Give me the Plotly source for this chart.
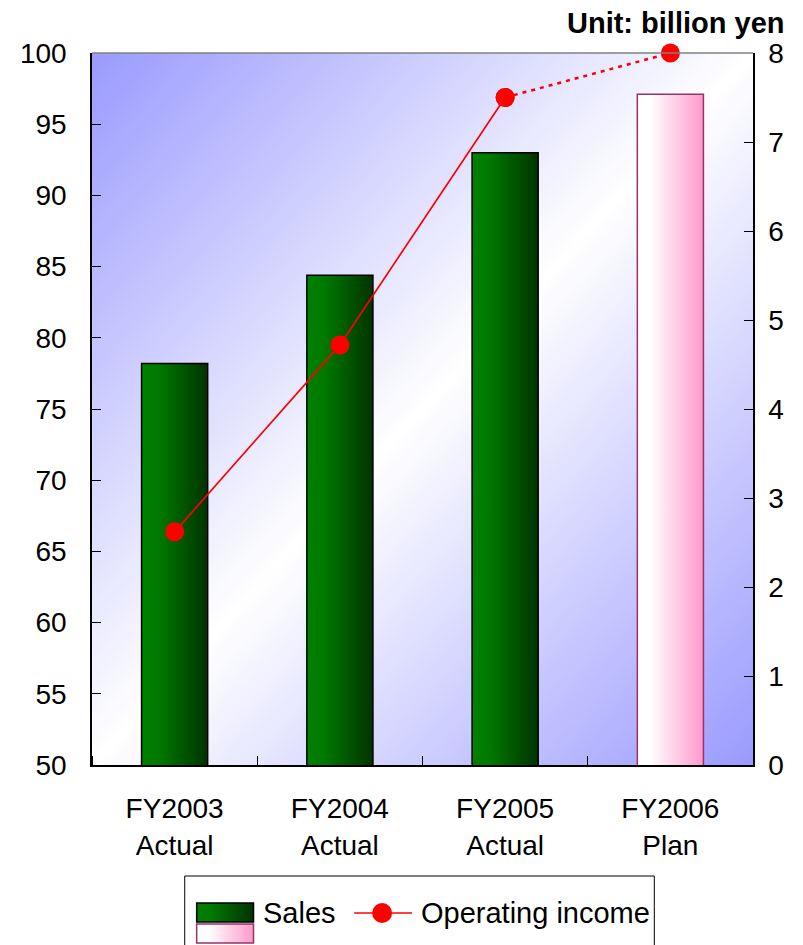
import base64
import plotly.graph_objects as go

# ---- data ----
categories = ["FY2003<br>Actual", "FY2004<br>Actual", "FY2005<br>Actual", "FY2006<br>Plan"]
sales = [78.2, 84.4, 93.0, 97.1]
operating_income = [2.62, 4.72, 7.5, 8.0]
left_ticks = [50, 55, 60, 65, 70, 75, 80, 85, 90, 95, 100]
right_ticks = [0, 1, 2, 3, 4, 5, 6, 7, 8]

FONT = "Liberation Sans, Arial, sans-serif"
OFF = 8  # page body margin
W, H = 803 - OFF, 945 - OFF
PX0, PX1, PY0, PY1 = 90, 753, 53, 765  # plot area in reference pixels


def px(x):
    return (x - PX0) / (PX1 - PX0)


def py(y):
    return (PY1 - y) / (PY1 - PY0)


def grad(stops, x2=1, y2=0):
    st = "".join(f'<stop offset="{o}" stop-color="{c}"/>' for o, c in stops)
    svg = (f'<svg xmlns="http://www.w3.org/2000/svg" width="100" height="100" '
           f'viewBox="0 0 100 100" preserveAspectRatio="none">'
           f'<defs><linearGradient id="g" x1="0" y1="0" x2="{x2}" y2="{y2}">{st}</linearGradient></defs>'
           f'<rect x="0" y="0" width="100" height="100" fill="url(#g)"/></svg>')
    return "data:image/svg+xml;base64," + base64.b64encode(svg.encode()).decode()


bg_src = grad([(0, "#9a9aff"), (0.5, "#ffffff"), (1, "#9a9aff")], x2=1, y2=1)
green_src = grad([(0, "#008000"), (0.25, "#007a00"), (1, "#003300")])
pink_src = grad([(0, "#ffffff"), (0.2, "#ffffff"), (1, "#ff99cc")])

xs = list(range(len(categories)))
bar_w = 0.4
bar_line_colors = ["#000000", "#000000", "#000000", "#993366"]

fig = go.Figure()
fig.add_trace(go.Bar(
    x=xs, y=sales, width=bar_w, name="Sales",
    marker=dict(color="rgba(0,0,0,0)", line=dict(color=bar_line_colors, width=1.5)),
    showlegend=False, hoverinfo="y",
))
fig.add_trace(go.Scatter(
    x=xs[:3], y=operating_income[:3], yaxis="y2", mode="lines+markers",
    line=dict(color="#ff0000", width=1.7), marker=dict(color="#ff0000", size=19),
    cliponaxis=False, showlegend=False,
))
fig.add_trace(go.Scatter(
    x=xs[2:], y=operating_income[2:], yaxis="y2", mode="lines+markers",
    line=dict(color="#ff0000", width=2.5, dash="4px,5px"), marker=dict(color="#ff0000", size=19),
    cliponaxis=False, showlegend=False,
))

images = [dict(source=bg_src, xref="paper", yref="paper", x=0, y=1, sizex=1, sizey=1,
               xanchor="left", yanchor="top", sizing="stretch", layer="below")]
for i, v in enumerate(sales):
    images.append(dict(source=pink_src if i == 3 else green_src, xref="x", yref="y",
                       x=xs[i] - bar_w / 2, y=v, sizex=bar_w, sizey=v - left_ticks[0],
                       xanchor="left", yanchor="top", sizing="stretch", layer="below"))

# legend (manual)
images.append(dict(source=green_src, xref="paper", yref="paper", x=px(195), y=py(903),
                   sizex=px(252) - px(195), sizey=py(903) - py(922),
                   xanchor="left", yanchor="top", sizing="stretch", layer="above"))
images.append(dict(source=pink_src, xref="paper", yref="paper", x=px(195), y=py(924),
                   sizex=px(252) - px(195), sizey=py(924) - py(943),
                   xanchor="left", yanchor="top", sizing="stretch", layer="above"))

shapes = [
    dict(type="line", xref="paper", yref="paper", x0=0, x1=1, y0=1, y1=1,
         line=dict(color="#808080", width=1.5)),
    dict(type="rect", xref="paper", yref="paper", x0=px(183), x1=px(654), y0=py(876), y1=py(960),
         line=dict(color="#000000", width=1), fillcolor="#ffffff", layer="below"),
    dict(type="rect", xref="paper", yref="paper", x0=px(195), x1=px(252), y0=py(903), y1=py(922),
         line=dict(color="#000000", width=1.5)),
    dict(type="rect", xref="paper", yref="paper", x0=px(195), x1=px(252), y0=py(924), y1=py(943),
         line=dict(color="#993366", width=1.5)),
    dict(type="line", xref="paper", yref="paper", x0=px(353), x1=px(411), y0=py(913), y1=py(913),
         line=dict(color="#ff0000", width=1.7)),
    dict(type="circle", xref="paper", yref="paper", x0=px(371), x1=px(391), y0=py(903), y1=py(923),
         line=dict(color="#ff0000", width=0), fillcolor="#ff0000"),
]

annotations = [
    dict(text="<b>Unit: billion yen</b>", xref="paper", yref="paper", x=px(787), y=py(23),
         xanchor="right", yanchor="middle", showarrow=False,
         font=dict(family=FONT, size=29, color="#000000")),
    dict(text="Sales", xref="paper", yref="paper", x=px(260), y=py(913),
         xanchor="left", yanchor="middle", showarrow=False,
         font=dict(family=FONT, size=29, color="#000000")),
    dict(text="Operating income", xref="paper", yref="paper", x=px(418), y=py(913),
         xanchor="left", yanchor="middle", showarrow=False,
         font=dict(family=FONT, size=29, color="#000000")),
]

tick_font = dict(family=FONT, size=28, color="#000000")
fig.update_layout(
    width=W, height=H,
    margin=dict(l=PX0 - OFF, r=W - (PX1 - OFF), t=PY0 - OFF, b=H - (PY1 - OFF)),
    paper_bgcolor="#ffffff", plot_bgcolor="rgba(0,0,0,0)",
    showlegend=False,
    xaxis=dict(range=[-0.5, 3.5], tickvals=xs, ticktext=categories, ticks="",
               showline=True, linecolor="#000000", linewidth=1.5, showgrid=False, zeroline=False,
               tickfont=tick_font, ticklabelstandoff=18,
               minor=dict(tick0=0.5, dtick=1, ticks="inside", ticklen=9, tickcolor="#000000",
                          showgrid=False)),
    yaxis=dict(range=[50, 100], tickvals=left_ticks, ticks="inside", ticklen=9,
               tickcolor="#000000", showline=True, linecolor="#000000", linewidth=1.5,
               showgrid=False, zeroline=False, tickfont=tick_font, ticklabelstandoff=18),
    yaxis2=dict(range=[0, 8], tickvals=right_ticks, overlaying="y", side="right",
                ticks="inside", ticklen=9, tickcolor="#000000", showline=True,
                linecolor="#000000", linewidth=1.5, showgrid=False, zeroline=False,
                tickfont=tick_font, ticklabelstandoff=8),
    images=images, shapes=shapes, annotations=annotations,
    bargap=0.6,
)

fig.write_html("out.html")
